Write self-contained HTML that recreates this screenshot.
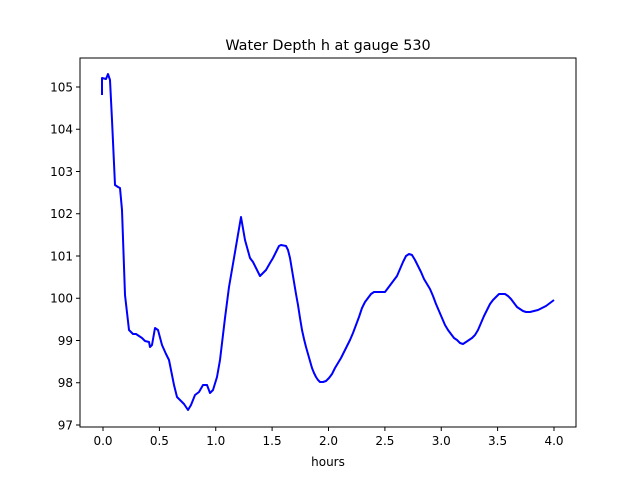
<!DOCTYPE html><html><head><style>body{margin:0;background:#fff}svg{display:block}text{font-family:"DejaVu Sans","Liberation Sans",sans-serif;font-size:12px;fill:#000}</style></head><body>
<svg width="640" height="480" viewBox="0 0 640 480">
<rect x="80" y="58" width="496" height="369" fill="none" stroke="#000" stroke-width="1"/>
<polyline fill="none" stroke="#0000ff" stroke-width="2" stroke-linejoin="round" points="102,95 102,78 106,79 108,74 110,80 112,120 115,185 118,187 120,188 122,210 125,295 129,330 133,334 136,334 142,338 145,341 149,342 150,347 152,345 155,328 158,330 162,345 166,354 169,360 172,375 174,385 177,397 180,400 184,404 188,410 191,405 195,395 199,392 203,385 207,385 210,393 213,390 217,377 220,360 225,318 229,287 234,258 241,217 245,240 250,258 253,262 260,276 266,270 270,263 273,258 275,254 277,250 279,246 281,245 286,246 288,250 290,258 292,270 294,282 296,294 298,305 300,318 302,330 304,339 306,347 308,354 310,361 312,368 314,373 316,377 318,380 320,382 323,382 326,381 329,378 332,374 335,368 338,363 341,358 344,352 346,348 348,344 350,340 353,333 356,325 359,317 362,308 365,302 368,298 371,294 374,292 385,292 388,288 391,284 394,280 397,276 400,269 403,262 406,256 409,254 412,255 415,260 418,266 421,272 424,279 427,284 430,289 433,296 436,304 439,311 442,318 445,325 448,330 451,334 454,338 457,340 460,343 463,344 466,342 469,340 472,338 475,335 478,330 481,323 484,316 487,310 490,304 493,300 496,297 499,294 505,294 508,296 511,299 514,303 517,307 520,309 523,311 526,312 530,312 534,311 538,310 542,308 546,306 550,303 554,300"/>
<g stroke="#000">
<line x1="103" y1="427" x2="103" y2="431"/><line x1="159.4" y1="427" x2="159.4" y2="431"/><line x1="215.75" y1="427" x2="215.75" y2="431"/><line x1="272.1" y1="427" x2="272.1" y2="431"/><line x1="328.5" y1="427" x2="328.5" y2="431"/><line x1="384.9" y1="427" x2="384.9" y2="431"/><line x1="441.25" y1="427" x2="441.25" y2="431"/><line x1="497.6" y1="427" x2="497.6" y2="431"/><line x1="554" y1="427" x2="554" y2="431"/>
<line x1="76" y1="425" x2="80" y2="425"/><line x1="76" y1="382.75" x2="80" y2="382.75"/><line x1="76" y1="340.5" x2="80" y2="340.5"/><line x1="76" y1="298.25" x2="80" y2="298.25"/><line x1="76" y1="256" x2="80" y2="256"/><line x1="76" y1="213.75" x2="80" y2="213.75"/><line x1="76" y1="171.5" x2="80" y2="171.5"/><line x1="76" y1="129.25" x2="80" y2="129.25"/><line x1="76" y1="87" x2="80" y2="87"/>
</g>
<g text-anchor="middle">
<text x="103" y="445">0.0</text><text x="159.4" y="445">0.5</text><text x="215.75" y="445">1.0</text><text x="272.1" y="445">1.5</text><text x="328.5" y="445">2.0</text><text x="384.9" y="445">2.5</text><text x="441.25" y="445">3.0</text><text x="497.6" y="445">3.5</text><text x="554" y="445">4.0</text>
<text x="328" y="466">hours</text>
<text x="328" y="50" style="font-size:14.4px">Water Depth h at gauge 530</text>
</g>
<g text-anchor="end">
<text x="73" y="429.5">97</text><text x="73" y="387">98</text><text x="73" y="345">99</text><text x="73" y="302.5">100</text><text x="73" y="260.5">101</text><text x="73" y="218">102</text><text x="73" y="176">103</text><text x="73" y="133.5">104</text><text x="73" y="91.5">105</text>
</g>
</svg></body></html>
